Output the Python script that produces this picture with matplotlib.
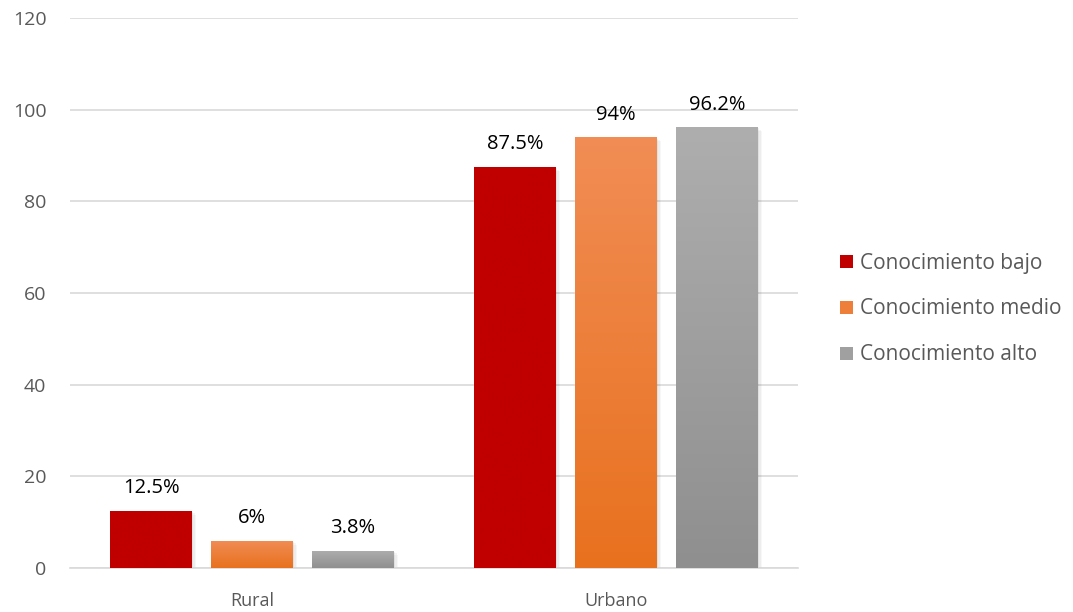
import numpy as np
import matplotlib
matplotlib.use("Agg")
import matplotlib.pyplot as plt
from matplotlib.patches import Rectangle
from matplotlib.colors import LinearSegmentedColormap

categories = ["Rural", "Urbano"]
series_names = ["Conocimiento bajo", "Conocimiento medio", "Conocimiento alto"]
bajo = [12.5, 87.5]
medio = [6, 94]
alto = [3.8, 96.2]
value_labels = [["12.5%", "87.5%"], ["6%", "94%"], ["3.8%", "96.2%"]]
y_ticks = [0, 20, 40, 60, 80, 100, 120]

plt.rcParams["font.family"] = ["Open Sans", "DejaVu Sans"]

fig = plt.figure(figsize=(10.73, 6.12), dpi=100)
ax = fig.add_axes([70 / 1073, 44 / 612, 728 / 1073, 550 / 612])

# gradient fills: (top colour, bottom colour)
fills = [("#C00000", "#C00000"), ("#F18D55", "#E8711E"), ("#AEAEAE", "#8F8F8F")]
series = [bajo, medio, alto]
width = 0.225
step = 0.2775
x = np.arange(len(categories))

ax.set_xlim(-0.5, 1.5)
ax.set_ylim(0, 120)

for i, (vals, (ctop, cbot)) in enumerate(zip(series, fills)):
    offs = (i - 1) * step
    for j, v in enumerate(vals):
        x0 = x[j] + offs - width / 2
        # soft shadow
        for k, a in enumerate([0.05, 0.04, 0.03]):
            sh = Rectangle((x0 + 0.004 * (k + 1), 0), width, v - 0.3 * (k + 1),
                           facecolor="black", alpha=a, edgecolor="none", zorder=2)
            ax.add_patch(sh)
        rect = Rectangle((x0, 0), width, v, facecolor="none", edgecolor="none", zorder=3)
        ax.add_patch(rect)
        cmap = LinearSegmentedColormap.from_list("g", [cbot, ctop])
        grad = np.linspace(0, 1, 256).reshape(-1, 1)
        im = ax.imshow(grad, cmap=cmap, aspect="auto", origin="lower",
                       extent=(x0, x0 + width, 0, max(v, 0.01)), zorder=3,
                       interpolation="bicubic")
        im.set_clip_path(rect)
        ax.annotate(value_labels[i][j], (x[j] + offs, v), xytext=(0, 9),
                    textcoords="offset points", ha="center", va="bottom",
                    fontsize=14.5, color="black", zorder=5)

ax.set_xlim(-0.5, 1.5)
ax.set_ylim(0, 120)
ax.set_yticks(y_ticks)
ax.set_xticks(x)
ax.set_xticklabels(categories)
ax.grid(axis="y", color="#D9D9D9", linewidth=1.2, zorder=0)
ax.set_axisbelow(True)
for s in ["top", "right", "left"]:
    ax.spines[s].set_visible(False)
ax.spines["bottom"].set_color("#D9D9D9")
ax.spines["bottom"].set_linewidth(1.2)
ax.tick_params(axis="y", length=0, labelsize=14, labelcolor="#595959", pad=17)
ax.tick_params(axis="x", length=0, labelsize=13, labelcolor="#595959", pad=17)

handles = [Rectangle((0, 0), 1, 1, facecolor=c) for c in ["#C00000", "#EE7F3A", "#A0A0A0"]]
leg = fig.legend(handles, series_names, loc="center left",
                 bbox_to_anchor=(834 / 1073, 1 - 309 / 612), frameon=False,
                 fontsize=15, labelcolor="#595959", handlelength=0.6,
                 handleheight=0.6, handletextpad=0.35, labelspacing=1.2,
                 borderaxespad=0, borderpad=0.3)

fig.savefig("out.png", dpi=100, facecolor="white")
